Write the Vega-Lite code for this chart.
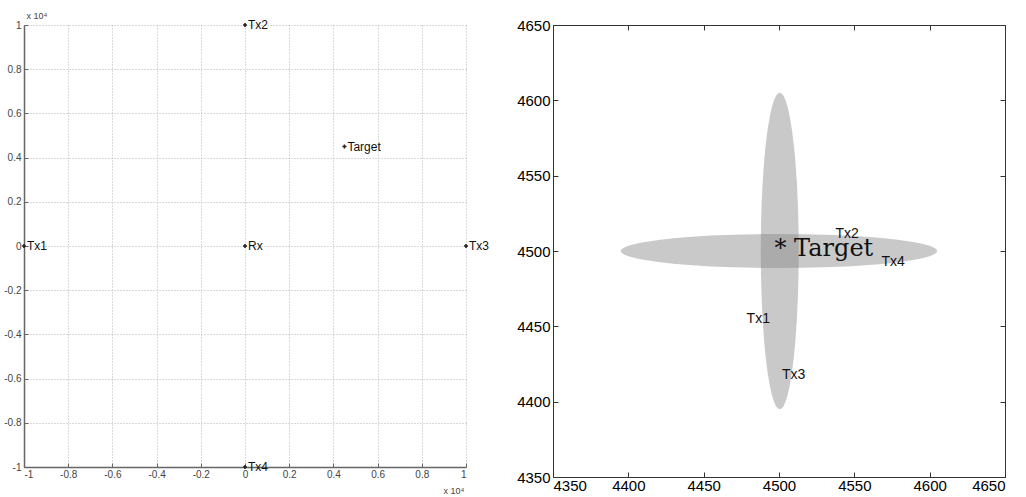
{
  "$schema": "https://vega.github.io/schema/vega-lite/v6.json",
  "background": "white",
  "padding": {"left": 3, "top": 11, "right": 5, "bottom": 5},
  "spacing": 87,
  "bounds": "flush",
  "config": {
    "view": {"stroke": null},
    "font": "Liberation Sans",
    "axis": {"labelFont": "Liberation Sans", "titleFont": "Liberation Sans"}
  },
  "datasets": {
    "hell": [
      {"x": 4395, "lo": 4500, "hi": 4500},
      {"x": 4395.5, "lo": 4498.9, "hi": 4501.1},
      {"x": 4397, "lo": 4497.81, "hi": 4502.19},
      {"x": 4400, "lo": 4496.55, "hi": 4503.45},
      {"x": 4405, "lo": 4495.19, "hi": 4504.81},
      {"x": 4410, "lo": 4494.18, "hi": 4505.82},
      {"x": 4420, "lo": 4492.68, "hi": 4507.32},
      {"x": 4430, "lo": 4491.58, "hi": 4508.42},
      {"x": 4440, "lo": 4490.72, "hi": 4509.28},
      {"x": 4455, "lo": 4489.79, "hi": 4510.21},
      {"x": 4470, "lo": 4489.17, "hi": 4510.83},
      {"x": 4485, "lo": 4488.82, "hi": 4511.18},
      {"x": 4500, "lo": 4488.7, "hi": 4511.3},
      {"x": 4515, "lo": 4488.82, "hi": 4511.18},
      {"x": 4530, "lo": 4489.17, "hi": 4510.83},
      {"x": 4545, "lo": 4489.79, "hi": 4510.21},
      {"x": 4560, "lo": 4490.72, "hi": 4509.28},
      {"x": 4570, "lo": 4491.58, "hi": 4508.42},
      {"x": 4580, "lo": 4492.68, "hi": 4507.32},
      {"x": 4590, "lo": 4494.18, "hi": 4505.82},
      {"x": 4595, "lo": 4495.19, "hi": 4504.81},
      {"x": 4600, "lo": 4496.55, "hi": 4503.45},
      {"x": 4603, "lo": 4497.81, "hi": 4502.19},
      {"x": 4604.5, "lo": 4498.9, "hi": 4501.1},
      {"x": 4605, "lo": 4500, "hi": 4500}
    ],
    "vell": [
      {"y": 4395, "lo": 4500.5, "hi": 4500.5},
      {"y": 4395.5, "lo": 4499.27, "hi": 4501.73},
      {"y": 4397, "lo": 4498.06, "hi": 4502.94},
      {"y": 4400, "lo": 4496.66, "hi": 4504.34},
      {"y": 4405, "lo": 4495.13, "hi": 4505.87},
      {"y": 4410, "lo": 4494.01, "hi": 4506.99},
      {"y": 4420, "lo": 4492.34, "hi": 4508.66},
      {"y": 4430, "lo": 4491.11, "hi": 4509.89},
      {"y": 4440, "lo": 4490.16, "hi": 4510.84},
      {"y": 4455, "lo": 4489.12, "hi": 4511.88},
      {"y": 4470, "lo": 4488.43, "hi": 4512.57},
      {"y": 4485, "lo": 4488.03, "hi": 4512.97},
      {"y": 4500, "lo": 4487.9, "hi": 4513.1},
      {"y": 4515, "lo": 4488.03, "hi": 4512.97},
      {"y": 4530, "lo": 4488.43, "hi": 4512.57},
      {"y": 4545, "lo": 4489.12, "hi": 4511.88},
      {"y": 4560, "lo": 4490.16, "hi": 4510.84},
      {"y": 4570, "lo": 4491.11, "hi": 4509.89},
      {"y": 4580, "lo": 4492.34, "hi": 4508.66},
      {"y": 4590, "lo": 4494.01, "hi": 4506.99},
      {"y": 4595, "lo": 4495.13, "hi": 4505.87},
      {"y": 4600, "lo": 4496.66, "hi": 4504.34},
      {"y": 4603, "lo": 4498.06, "hi": 4502.94},
      {"y": 4604.5, "lo": 4499.27, "hi": 4501.73},
      {"y": 4605, "lo": 4500.5, "hi": 4500.5}
    ]
  },
  "hconcat": [
    {
      "width": 442,
      "height": 442,
      "data": {"values": [
        {"name": "Tx1", "x": -10000, "y": 0},
        {"name": "Tx2", "x": 0, "y": 10000},
        {"name": "Tx3", "x": 10000, "y": 0},
        {"name": "Tx4", "x": 0, "y": -10000},
        {"name": "Rx", "x": 0, "y": 0},
        {"name": "Target", "x": 4500, "y": 4500}
      ]},
      "layer": [
        {
          "mark": {"type": "point", "shape": "cross", "filled": true, "size": 16, "color": "#222", "opacity": 1},
          "encoding": {
            "x": {"field": "x", "type": "quantitative",
              "scale": {"domain": [-10000, 10000], "nice": false, "zero": false},
              "axis": {"values": [-10000, -8000, -6000, -4000, -2000, 0, 2000, 4000, 6000, 8000, 10000],
                "labelExpr": "'' + datum.value / 10000",
                "grid": true, "gridDash": [1, 2], "gridColor": "#b4b4b4", "gridWidth": 1,
                "domainColor": "#666666", "domainWidth": 1.5, "tickColor": "#666666", "tickSize": -4,
                "labelFontSize": 10, "labelColor": "#444444", "labelPadding": 6,
                "title": "x 10⁴", "titleFontSize": 9, "titleFontWeight": "normal", "titleColor": "#444444",
                "titleX": 440, "titleY": 26, "titleAlign": "right", "titleBaseline": "alphabetic"}},
            "y": {"field": "y", "type": "quantitative",
              "scale": {"domain": [-10000, 10000], "nice": false, "zero": false},
              "axis": {"values": [-10000, -8000, -6000, -4000, -2000, 0, 2000, 4000, 6000, 8000, 10000],
                "labelExpr": "'' + datum.value / 10000",
                "grid": true, "gridDash": [1, 2], "gridColor": "#b4b4b4", "gridWidth": 1,
                "domainColor": "#666666", "domainWidth": 1.5, "tickColor": "#666666", "tickSize": -4,
                "labelFontSize": 10, "labelColor": "#444444", "labelPadding": 7,
                "title": "x 10⁴", "titleFontSize": 9, "titleFontWeight": "normal", "titleColor": "#444444",
                "titleAngle": 0, "titleX": 2, "titleY": -5, "titleAlign": "left", "titleBaseline": "bottom"}}
          }
        },
        {
          "mark": {"type": "text", "align": "left", "baseline": "middle", "dx": 3, "fontSize": 12, "color": "#111111", "font": "Liberation Sans"},
          "encoding": {
            "x": {"field": "x", "type": "quantitative"},
            "y": {"field": "y", "type": "quantitative"},
            "text": {"field": "name"}
          }
        }
      ]
    },
    {
      "width": 452,
      "height": 452,
      "layer": [
        {
          "data": {"name": "hell"},
          "mark": {"type": "area", "color": "#888888", "opacity": 0.45},
          "encoding": {
            "x": {"field": "x", "type": "quantitative",
              "scale": {"domain": [4350, 4650], "nice": false, "zero": false},
              "axis": {"values": [4350, 4400, 4450, 4500, 4550, 4600, 4650], "format": "d", "grid": false,
                "domainColor": "#333333", "tickColor": "#333333", "tickSize": -5,
                "labelFontSize": 15, "labelColor": "#000000", "labelPadding": 6, "title": null}},
            "y": {"field": "lo", "type": "quantitative",
              "scale": {"domain": [4350, 4650], "nice": false, "zero": false},
              "axis": {"values": [4350, 4400, 4450, 4500, 4550, 4600, 4650], "format": "d", "grid": false,
                "domainColor": "#333333", "tickColor": "#333333", "tickSize": -5,
                "labelFontSize": 15, "labelColor": "#000000", "labelPadding": 8, "title": null}},
            "y2": {"field": "hi"}
          }
        },
        {
          "data": {"name": "vell"},
          "mark": {"type": "area", "orient": "horizontal", "color": "#888888", "opacity": 0.45},
          "encoding": {
            "y": {"field": "y", "type": "quantitative",
              "axis": {"orient": "right", "values": [4350, 4400, 4450, 4500, 4550, 4600, 4650], "labels": false, "grid": false,
                "domainColor": "#333333", "tickColor": "#333333", "tickSize": -5, "title": null}},
            "x": {"field": "lo", "type": "quantitative",
              "axis": {"orient": "top", "values": [4350, 4400, 4450, 4500, 4550, 4600, 4650], "labels": false, "grid": false,
                "domainColor": "#333333", "tickColor": "#333333", "tickSize": -5, "title": null}},
            "x2": {"field": "hi"}
          }
        },
        {
          "data": {"values": [{"label": "* Target", "x": 4497, "y": 4497}]},
          "mark": {"type": "text", "align": "left", "baseline": "alphabetic", "font": "DejaVu Serif", "fontSize": 24, "color": "#111111"},
          "encoding": {
            "x": {"field": "x", "type": "quantitative", "axis": null},
            "y": {"field": "y", "type": "quantitative", "axis": null},
            "text": {"field": "label"}
          }
        },
        {
          "data": {"values": [
            {"label": "Tx2", "x": 4537.5, "y": 4511},
            {"label": "Tx4", "x": 4568, "y": 4493},
            {"label": "Tx1", "x": 4478.5, "y": 4455},
            {"label": "Tx3", "x": 4502, "y": 4418}
          ]},
          "mark": {"type": "text", "align": "left", "baseline": "middle", "font": "Liberation Sans", "fontSize": 14, "color": "#111111"},
          "encoding": {
            "x": {"field": "x", "type": "quantitative", "axis": null},
            "y": {"field": "y", "type": "quantitative", "axis": null},
            "text": {"field": "label"}
          }
        }
      ],
      "resolve": {"axis": {"x": "independent", "y": "independent"}}
    }
  ]
}
